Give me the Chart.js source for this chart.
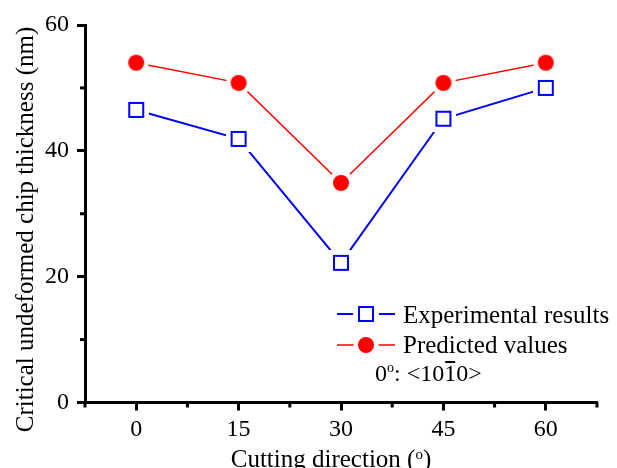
<!DOCTYPE html>
<html>
<head>
<meta charset="utf-8">
<script src="https://cdn.jsdelivr.net/npm/chart.js@4/dist/chart.umd.min.js"></script>
<style>
  html, body { margin: 0; padding: 0; background: #fff; }
  #wrap { width: 617px; height: 468px; }
</style>
</head>
<body>
<div id="wrap"><canvas id="chart" width="617" height="468"></canvas></div>
<script>
"use strict";
// cutting direction (degrees) and chip thickness (nm)
const angles = [0, 15, 30, 45, 60];
const experimental = [46.5, 41.9, 22.2, 45.1, 50.0];
const predicted = [54.0, 50.8, 34.9, 50.8, 54.0];
const xMajorTicks = [0, 15, 30, 45, 60];
const yMajorTicks = [0, 20, 40, 60];

const SERIF = '"Liberation Serif", "Times New Roman", serif';
const isMajor = (list, v) => list.some(t => Math.abs(t - v) < 1e-6);

// marker images with a white halo, so the line stops short of the marker (Origin style)
function squareMarker(color) {
    const c = document.createElement('canvas');
    c.width = c.height = 26;
    const g = c.getContext('2d');
    g.fillStyle = '#fff';
    g.fillRect(0, 0, 26, 26);
    g.strokeStyle = color;
    g.lineWidth = 2;
    g.strokeRect(6, 6, 14, 14);
    return c;
}
function circleMarker(color) {
    const c = document.createElement('canvas');
    c.width = c.height = 26;
    const g = c.getContext('2d');
    g.fillStyle = '#fff';
    g.beginPath(); g.arc(13, 13, 12.5, 0, Math.PI * 2); g.fill();
    g.fillStyle = color;
    g.beginPath(); g.arc(13, 13, 8, 0, Math.PI * 2); g.fill();
    return c;
}
const blueSquare = squareMarker('#0000ff');
const redDot = circleMarker('#ff0000');

const extrasPlugin = {
    id: 'extras',
    afterDraw(chart) {
        const ctx = chart.ctx;
        const xs = chart.scales.x, ys = chart.scales.y;
        ctx.save();
        ctx.fillStyle = '#000';
        ctx.strokeStyle = '#000';

        // minor ticks (shorter)
        ctx.lineWidth = 3;
        xs.ticks.forEach(t => {
            if (isMajor(xMajorTicks, t.value)) return;
            const px = xs.getPixelForValue(t.value);
            ctx.beginPath(); ctx.moveTo(px, xs.top); ctx.lineTo(px, xs.top + 5); ctx.stroke();
        });
        ys.ticks.forEach(t => {
            if (isMajor(yMajorTicks, t.value)) return;
            const py = ys.getPixelForValue(t.value);
            ctx.beginPath(); ctx.moveTo(ys.right, py); ctx.lineTo(ys.right - 5, py); ctx.stroke();
        });

        // y axis title
        ctx.font = '25px ' + SERIF;
        ctx.textBaseline = 'alphabetic';
        ctx.save();
        ctx.translate(33, 229.5);
        ctx.rotate(-Math.PI / 2);
        ctx.textAlign = 'center';
        ctx.fillText('Critical undeformed chip thickness (nm)', 0, 0);
        ctx.restore();

        // x axis title with superscript degree
        ctx.textAlign = 'left';
        const p1 = 'Cutting direction (', p3 = ')';
        ctx.font = '25px ' + SERIF;
        const w1 = ctx.measureText(p1).width, w3 = ctx.measureText(p3).width;
        ctx.font = '15px ' + SERIF;
        const w2 = ctx.measureText('o').width;
        let x = 331 - (w1 + w2 + w3) / 2;
        ctx.font = '25px ' + SERIF;
        ctx.fillText(p1, x, 467); x += w1;
        ctx.font = '15px ' + SERIF;
        ctx.fillText('o', x, 459); x += w2;
        ctx.font = '25px ' + SERIF;
        ctx.fillText(p3, x, 467);

        // legend
        const rows = [
            { label: 'Experimental results', color: '#0000ff', width: 2, img: blueSquare, y: 314, base: 323 },
            { label: 'Predicted values', color: '#ff0000', width: 1.5, img: redDot, y: 345, base: 353 }
        ];
        rows.forEach(r => {
            ctx.strokeStyle = r.color;
            ctx.lineWidth = r.width;
            ctx.beginPath(); ctx.moveTo(337, r.y); ctx.lineTo(395, r.y); ctx.stroke();
            ctx.drawImage(r.img, 366 - 13, r.y - 13);
            ctx.fillStyle = '#000';
            ctx.font = '25px ' + SERIF;
            ctx.fillText(r.label, 403, r.base);
        });

        // 0°: <10-10> note, overline on the second 1
        ctx.fillStyle = '#000';
        ctx.strokeStyle = '#000';
        let nx = 375;
        const nb = 381;
        ctx.font = '24px ' + SERIF;
        ctx.fillText('0', nx, nb); nx += ctx.measureText('0').width;
        ctx.font = '14px ' + SERIF;
        ctx.fillText('o', nx, nb - 9); nx += ctx.measureText('o').width;
        ctx.font = '24px ' + SERIF;
        ctx.fillText(': <10', nx, nb); nx += ctx.measureText(': <10').width;
        const oneW = ctx.measureText('1').width;
        ctx.fillText('1', nx, nb);
        ctx.lineWidth = 2;
        ctx.beginPath(); ctx.moveTo(nx + 1, 362); ctx.lineTo(nx + oneW - 1, 362); ctx.stroke();
        nx += oneW;
        ctx.fillText('0>', nx, nb);

        ctx.restore();
    }
};

new Chart(document.getElementById('chart'), {
    type: 'line',
    data: {
        datasets: [
            {
                label: 'Experimental results',
                data: angles.map((a, i) => ({ x: a, y: experimental[i] })),
                borderColor: '#0000ff',
                borderWidth: 2,
                pointStyle: blueSquare,
                pointRadius: 8,
                tension: 0
            },
            {
                label: 'Predicted values',
                data: angles.map((a, i) => ({ x: a, y: predicted[i] })),
                borderColor: '#ff0000',
                borderWidth: 1.5,
                pointStyle: redDot,
                pointRadius: 8,
                tension: 0
            }
        ]
    },
    options: {
        responsive: false,
        animation: false,
        events: [],
        layout: { padding: { top: 25, right: 20, left: 0, bottom: 0 } },
        plugins: { legend: { display: false }, tooltip: { enabled: false } },
        scales: {
            x: {
                type: 'linear',
                min: -7.5, max: 67.5,
                afterFit: s => { s.height = 65.5; },
                border: { display: true, color: '#000', width: 3 },
                grid: {
                    drawOnChartArea: false, drawTicks: true, tickLength: 8, tickWidth: 3,
                    tickColor: c => (c.tick && isMajor(xMajorTicks, c.tick.value)) ? '#000' : 'rgba(0,0,0,0)'
                },
                ticks: {
                    stepSize: 7.5, autoSkip: false, maxRotation: 0, padding: 5,
                    color: '#000', font: { family: SERIF, size: 24 },
                    callback: v => isMajor(xMajorTicks, v) ? String(Math.round(v)) : ''
                }
            },
            y: {
                min: 0, max: 60,
                afterFit: s => { s.width = 85; },
                border: { display: true, color: '#000', width: 3 },
                grid: {
                    drawOnChartArea: false, drawTicks: true, tickLength: 8, tickWidth: 3,
                    tickColor: c => (c.tick && isMajor(yMajorTicks, c.tick.value)) ? '#000' : 'rgba(0,0,0,0)'
                },
                ticks: {
                    stepSize: 10, autoSkip: false, padding: 8,
                    color: '#000', font: { family: SERIF, size: 24 },
                    callback: v => isMajor(yMajorTicks, v) ? String(v) : ''
                }
            }
        }
    },
    plugins: [extrasPlugin]
});
</script>
</body>
</html>
